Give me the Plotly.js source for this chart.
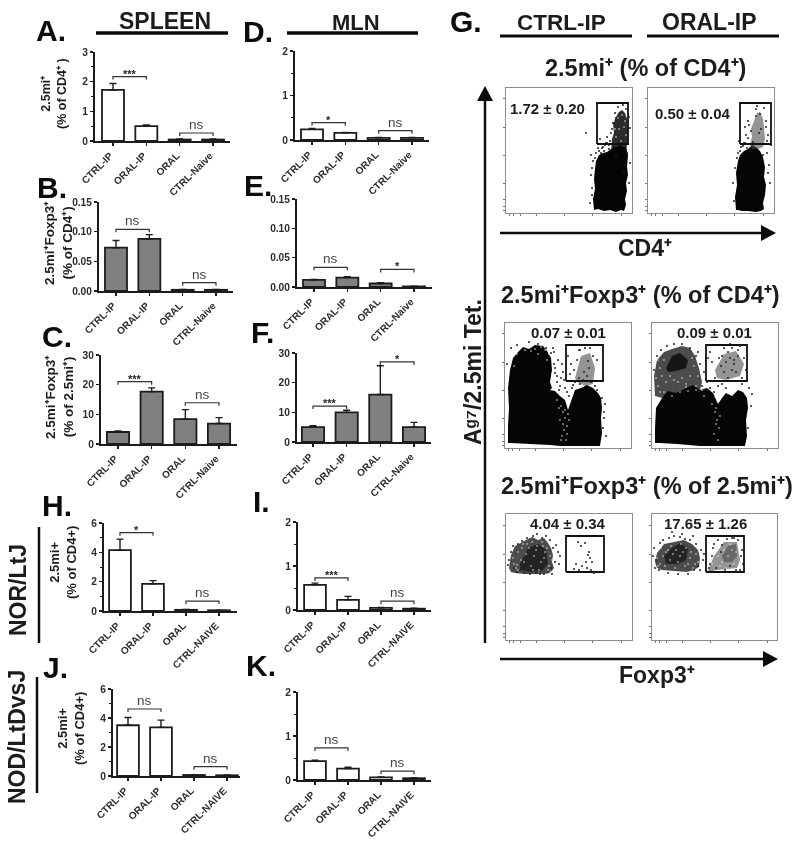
<!DOCTYPE html>
<html><head><meta charset="utf-8">
<script src="https://cdn.plot.ly/plotly-3.0.1.min.js"></script>
<style>html,body{margin:0;padding:0;background:#fff}#chart{width:800px;height:843px;filter:blur(0.55px)}</style>
</head><body><div id="chart"></div>
<script>
// ---------- bar chart data ----------
const categoriesNaive = ['CTRL-IP','ORAL-IP','ORAL','CTRL-Naive'];
const categoriesNAIVE = ['CTRL-IP','ORAL-IP','ORAL','CTRL-NAIVE'];

const valuesA = [1.72,0.50,0.05,0.05], errorsA = [0.22,0.04,0.02,0.02], bracketsA = [2.17,0.27], marksA = ['***','ns'];
const valuesB = [0.073,0.088,0.002,0.002], errorsB = [0.012,0.007,0.0006,0.0006], bracketsB = [0.104,0.014], marksB = ['ns','ns'];
const valuesC = [4.04,17.65,8.4,6.9], errorsC = [0.34,1.26,3.2,2.0], bracketsC = [21,13.9], marksC = ['***','ns'];
const valuesD = [0.24,0.16,0.05,0.05], errorsD = [0.02,0.01,0.01,0.01], bracketsD = [0.39,0.21], marksD = ['*','ns'];
const valuesE = [0.012,0.016,0.006,0.001], errorsE = [0.001,0.0015,0.0015,0.0005], bracketsE = [0.0336,0.030], marksE = ['ns','*'];
const valuesF = [5,10,16,5], errorsF = [0.5,0.7,9.7,1.6], bracketsF = [12.1,27], marksF = ['***','*'];
const valuesH = [4.15,1.85,0.08,0.05], errorsH = [0.75,0.22,0.02,0.01], bracketsH = [5.34,0.68], marksH = ['*','ns'];
const valuesI = [0.57,0.23,0.05,0.03], errorsI = [0.04,0.08,0.01,0.01], bracketsI = [0.73,0.20], marksI = ['***','ns'];
const valuesJ = [3.5,3.35,0.07,0.05], errorsJ = [0.53,0.5,0.02,0.02], bracketsJ = [4.62,0.64], marksJ = ['ns','ns'];
const valuesK = [0.43,0.26,0.06,0.04], errorsK = [0.02,0.03,0.01,0.01], bracketsK = [0.73,0.20], marksK = ['ns','ns'];

const ticks3 = [0,1,2,3], ticks2 = [0,1,2], ticks6 = [0,2,4,6], ticks30 = [0,10,20,30];
const ticks015 = [0,0.05,0.10,0.15], ticks015Text = ['0.00','0.05','0.10','0.15'];

// ---------- flow cytometry data (panel units) ----------
const gate1X = [91,122], gate1Y = [69,110];
const dense1LX = [88,87,89,88,89,90,93,97,101,104,108,111,114,117,120,122,121,122,120,121,119,120,118,115,110,104,98,92];
const dense1LY = [3,14,24,34,44,52,58,60,61,63,66,66,68,66,66,58,46,38,30,22,14,8,2,3,1,3,2,4];
const upper1LX = [105,106,108,107,110,113,116,119,121,122,121,119,112,106];
const upper1LY = [60,74,80,90,96,101,103,100,94,80,68,56,56,58];
const specks1LX = [84,86,85,87,90,93,96,99,104,101,106,110,112,117,120,123,124,122,121,119,118,116,113,109,107,105,103,100,97,95,92,89,86,80,113,116,110,94,98,103,101,124,123,86,85];
const specks1LY = [10,25,38,52,60,62,65,68,72,76,84,95,106,108,104,96,85,70,60,48,40,76,110,100,90,80,68,70,66,60,65,55,45,80,72,88,58,74,62,64,70,50,30,18,58];
const holes1LX = [110,113,108,116,118,112,120,115,109,119];
const holes1LY = [76,84,92,98,86,95,78,72,84,92];
const gate2X = [92,123], gate2Y = [69,110];
const dense1RX = [88,87,89,88,90,92,96,100,104,108,112,115,117,116,118,117,115,116,113,108,100,94,90];
const dense1RY = [3,16,28,40,52,58,62,64,68,66,62,56,46,36,28,18,10,4,2,1,2,2,3];
const upper1RX = [102,104,103,106,109,112,115,116,117,115,110,104];
const upper1RY = [68,76,84,92,100,101,94,86,74,66,64,64];
const specks1RX = [86,85,87,90,93,97,100,103,100,99,108,112,116,118,120,119,121,122,113,108,101,96,92,89,119,115,105,109,111,120,98,95,97,91,118,123];
const specks1RY = [12,30,45,60,66,70,75,82,92,65,104,99,105,86,78,60,48,30,84,97,88,70,62,55,72,58,71,107,80,40,78,67,86,72,92,68];

const gate3X = [61,98], gate3Y = [67,103];
const dense2LX = [3,3,4,3,5,8,13,18,24,30,38,42,46,47,45,47,45,50,55,60,63,67,70,76,82,88,93,96,97,96,97,95,85,70,55,45,30,15,5];
const dense2LY = [5,22,40,60,78,90,96,101,99,103,102,97,90,78,66,60,58,57,52,48,38,50,58,60,63,60,55,50,40,30,15,2,2,2,2,3,4,5,5];
const gateCloud2LX = [70,76,85,90,88,80,72];
const gateCloud2LY = [70,92,95,80,64,62,66];
const specks2LX = [50,53,56,49,60,58,52,48,6,2,12,24,33,41,46,50,64,67,70,74,78,82,86,90,92,97,100,99,98,85,75,66,72,80,83,88,63,57,79,69,74,84,92,65,55,54,59,49,52,62,68,75,99,101];
const specks2LY = [80,88,70,96,60,76,66,100,100,84,103,106,104,100,95,75,52,60,66,70,68,72,66,62,58,50,44,30,20,100,98,84,88,100,87,92,92,84,76,78,98,80,88,74,62,58,68,84,72,56,63,64,36,12];
const holes2LX = [56,58,60,62,59,57,61,63,55,58,62,60,64,56,52,54,44,40,47,36,30,20,12,9,42,33,26];
const holes2LY = [42,36,30,22,18,12,8,34,28,24,14,38,28,8,48,40,94,98,74,101,99,98,94,82,88,94,97];
const gate4X = [54,95], gate4Y = [67,103];
const dense2RX = [3,3,4,10,16,24,34,41,48,55,61,66,70,74,80,86,91,95,96,94,95,93,70,48,25,8];
const dense2RY = [5,20,40,50,57,55,60,63,58,60,55,44,50,55,52,58,56,50,40,28,12,2,2,2,4,5];
const upper2RX = [3,2,5,12,20,30,38,43,47,50,48,30,10];
const upper2RY = [52,72,88,96,99,102,100,92,80,66,58,54,50];
const core2RX = [14,20,28,36,34,24,16];
const core2RY = [80,92,95,88,80,77,76];
const gateCloud2RX = [63,72,84,92,88,74,65];
const gateCloud2RY = [78,94,97,84,72,68,70];
const specks2RX = [2,5,9,15,22,30,38,44,48,52,55,50,46,58,62,66,70,74,80,86,92,97,100,99,96,90,60,58,67,72,78,88,94,69,76,82,90,63,56,52,78,74,82,80,86,84,72,76,70];
const specks2RY = [78,92,98,102,104,104,100,92,84,76,66,62,96,60,56,62,64,60,100,98,90,60,54,42,20,64,86,96,90,100,104,102,78,82,96,88,70,70,90,58,90,86,84,78,92,76,76,70,92];
const holes2RX = [63,65,67,62,66,60,68,64,64,50,44,20,12,8,28,36,34,52,6,10,14,8,4,38,42,46,44,40,30,26,22,12,18,6,34];
const holes2RY = [36,28,20,14,8,44,32,40,24,58,58,52,56,56,56,57,61,52,62,72,66,80,70,72,82,72,62,90,70,66,68,88,72,88,64];

const gate5X = [60,98], gate5Y = [68,104];
const dense3LX = [3,5,9,14,20,26,32,38,42,45,47,46,48,44,38,28,18,9,5];
const dense3LY = [72,85,94,97,100,103,100,102,97,92,85,78,72,67,66,66,66,67,68];
const core3LX = [14,22,32,40,42,36,24,14];
const core3LY = [76,92,96,90,76,69,68,70];
const specks3LX = [3,5,2,8,12,16,21,27,31,36,40,44,47,50,52,49,45,54,42,38,30,18,11,7,14,24,34,46,53,72,75,79,82,84,86,76,70,68,73,81,85,78,71,83,80,88];
const specks3LY = [80,88,75,72,96,99,102,104,106,102,104,100,92,95,88,78,72,84,68,66,67,67,68,94,70,66,66,66,76,98,94,97,85,82,78,74,76,71,70,72,70,68,68,88,78,67];
const holes3LX = [8,12,16,21,26,31,36,41,44,10,15,20,25,30,35,39,43,7,12,18,23,28,33,38,42,46,6,11,17,27,37,44];
const holes3LY = [76,88,92,96,98,94,98,92,84,72,80,86,74,90,78,88,74,82,70,78,92,84,70,82,70,80,90,75,96,70,94,68];
const gate6X = [54,92], gate6Y = [68,104];
const dense3RX = [3,5,12,22,32,40,46,48,47,42,35,22,10,5];
const dense3RY = [78,87,96,98,100,96,90,82,73,70,68,69,70,72];
const core3RX = [12,20,28,36,34,26,14];
const core3RY = [84,92,97,92,80,76,76];
const gateCloud3RX = [57,62,72,85,88,85,65,56];
const gateCloud3RY = [72,84,98,98,80,72,70,68];
const core3GX = [70,76,84,85,80,72];
const core3GY = [84,94,96,84,78,78];
const specks3RX = [2,4,1,3,8,11,17,22,28,33,38,44,49,51,46,42,36,26,16,7,48,52,41,30,20,57,60,62,66,70,75,80,86,90,91,88,58,64,69,78,84,73,61,82,89];
const specks3RY = [92,80,84,72,97,100,102,104,103,101,100,96,90,80,74,70,66,66,67,70,70,86,104,106,108,72,84,96,100,95,101,102,100,90,76,70,76,72,88,74,70,70,92,102,84];
const holes3RX = [5,9,14,19,24,29,34,39,44,8,13,18,23,28,33,38,43,11,16,26,31,41,46,6,21,36,60,66,72,78,84,63,70,76,82,68,74,80];
const holes3RY = [82,92,88,94,90,96,92,88,86,76,74,80,72,84,74,82,76,84,90,78,88,72,78,74,86,76,76,84,90,96,88,72,78,84,76,74,72,90];

const flowLabels = ['1.72 ± 0.20','0.50 ± 0.04','0.07 ± 0.01','0.09 ± 0.01','4.04 ± 0.34','17.65 ± 1.26'];
const flowTickPositions = [3,7,14,30,58,86,115];

// ---------- layout geometry (pixels) ----------
const W = 800, H = 843;
const px = x => x / W, py = y => 1 - y / H;
const data = [], shapes = [], annotations = [];
const layout = {width:W, height:H, margin:{l:0,r:0,t:0,b:0}, paper_bgcolor:'#fff', plot_bgcolor:'rgba(0,0,0,0)', showlegend:false, hovermode:false, shapes, annotations, bargap:0};
const FONT = '"Liberation Sans", Arial, sans-serif';
const INK = '#1c1c1c';
let axisIndex = 0;

function nextAxes(x0, x1, yTop, yBottom) {
  axisIndex++;
  const s = axisIndex === 1 ? '' : axisIndex;
  return {xa:'x'+s, ya:'y'+s, xk:'xaxis'+s, yk:'yaxis'+s,
    dx:[px(x0),px(x1)], dy:[py(yBottom),py(yTop)]};
}

function barPanel(g, cats, vals, errs, br, marks, fill, yMax, yTicks, yTickText, minorStep) {
  const a = nextAxes(g.axisX, g.right, g.top, g.bottom);
  const step = (g.c3 - g.c0) / 3;
  layout[a.xk] = {domain:a.dx, anchor:a.ya, range:[(g.axisX-g.c0)/step,(g.right-g.c0)/step], tickmode:'array', tickvals:[0,1,2,3], ticktext:cats,
    tickangle:-45, ticks:'outside', ticklen:3, tickwidth:1.5, tickcolor:INK, showline:true, linewidth:2, linecolor:INK, showgrid:false, zeroline:false,
    tickfont:{family:FONT,size:10,color:'#2c2c2c',weight:700}, ticklabelshift:-3, fixedrange:true};
  layout[a.yk] = {domain:a.dy, anchor:a.xa, range:[0,yMax], tickmode:'array', tickvals:yTicks, ticktext:yTickText||yTicks.map(String),
    ticks:'outside', ticklen:3, tickwidth:1.5, tickcolor:INK, showline:true, linewidth:2, linecolor:INK, showgrid:false, zeroline:false,
    tickfont:{family:FONT,size:10.2,color:'#2c2c2c',weight:700}, fixedrange:true,
    minor: minorStep ? {dtick:minorStep, ticks:'outside', ticklen:2, tickcolor:INK, tickwidth:1} : undefined};
  data.push({type:'bar', x:[0,1,2,3], y:vals, width:0.66, xaxis:a.xa, yaxis:a.ya,
    marker:{color:fill, line:{color:INK,width:1.8}},
    error_y:{type:'data', symmetric:false, array:errs, arrayminus:[0,0,0,0], thickness:1.4, width:3.5, color:INK}, cliponaxis:false});
  const hpx = g.bottom - g.top, arm = 3 / hpx * yMax;
  [[0,1],[2,3]].forEach((p,i) => {
    data.push({type:'scatter', mode:'lines', x:[p[0],p[0],p[1],p[1]], y:[br[i]-arm,br[i],br[i],br[i]-arm], xaxis:a.xa, yaxis:a.ya,
      line:{color:'#333',width:1.2}, cliponaxis:false});
    const isNs = marks[i] === 'ns';
    annotations.push({xref:a.xa, yref:a.ya, x:(p[0]+p[1])/2, y:br[i], text:marks[i], showarrow:false, xanchor:'center', yanchor:'bottom',
      yshift:isNs?-1:-5, font:{family:FONT,size:isNs?13.5:11,color:isNs?'#444':'#222',weight:isNs?400:700}});
  });
}

barPanel({axisX:95,right:230,top:52,bottom:141,c0:113,c3:213}, categoriesNaive, valuesA, errorsA, bracketsA, marksA, '#fff', 3, ticks3, null, 0.5);
barPanel({axisX:99,right:233,top:202,bottom:291,c0:116,c3:216}, categoriesNaive, valuesB, errorsB, bracketsB, marksB, '#808080', 0.15, ticks015, ticks015Text);
barPanel({axisX:101,right:237,top:355,bottom:444,c0:118,c3:219}, categoriesNaive, valuesC, errorsC, bracketsC, marksC, '#808080', 30, ticks30);
barPanel({axisX:295,right:429,top:51,bottom:140,c0:312,c3:412}, categoriesNaive, valuesD, errorsD, bracketsD, marksD, '#fff', 2, ticks2, null, 0.5);
barPanel({axisX:297,right:432,top:199,bottom:287,c0:314,c3:414}, categoriesNaive, valuesE, errorsE, bracketsE, marksE, '#808080', 0.15, ticks015, ticks015Text);
barPanel({axisX:297,right:431,top:353,bottom:442,c0:313,c3:414}, categoriesNaive, valuesF, errorsF, bracketsF, marksF, '#808080', 30, ticks30);
barPanel({axisX:104,right:237,top:523,bottom:611,c0:120,c3:219}, categoriesNAIVE, valuesH, errorsH, bracketsH, marksH, '#fff', 6, ticks6, null, 1);
barPanel({axisX:298,right:431,top:522,bottom:610,c0:315,c3:414}, categoriesNAIVE, valuesI, errorsI, bracketsI, marksI, '#fff', 2, ticks2, null, 0.5);
barPanel({axisX:113,right:240,top:689,bottom:776,c0:128,c3:227}, categoriesNAIVE, valuesJ, errorsJ, bracketsJ, marksJ, '#fff', 6, ticks6, null, 1);
barPanel({axisX:298,right:431,top:692,bottom:780,c0:315,c3:414}, categoriesNAIVE, valuesK, errorsK, bracketsK, marksK, '#fff', 2, ticks2, null, 0.5);

function flowPanel(r, gX, gY, regions, sX, sY, hX, hY, label, lx, ly) {
  const a = nextAxes(r[0], r[1], r[2], r[3]);
  const base = {showline:true, mirror:true, linewidth:1.2, linecolor:'#8c8c8c', showgrid:false, zeroline:false, showticklabels:false,
    tickmode:'array', tickvals:flowTickPositions, ticks:'outside', ticklen:2, tickwidth:1, tickcolor:'#777', fixedrange:true};
  layout[a.xk] = Object.assign({}, base, {domain:a.dx, anchor:a.ya, range:[0, r[1]-r[0]]});
  layout[a.yk] = Object.assign({}, base, {domain:a.dy, anchor:a.xa, range:[0, r[3]-r[2]]});
  regions.forEach(t => data.push({type:'scatter', mode:'lines', x:t.x, y:t.y, fill:'toself', fillcolor:t.c, line:{color:'rgba(0,0,0,0)',width:0}, xaxis:a.xa, yaxis:a.ya}));
  if (hX) data.push({type:'scatter', mode:'markers', x:hX, y:hY, marker:{size:1.6,color:'#e8e8e8'}, xaxis:a.xa, yaxis:a.ya});
  data.push({type:'scatter', mode:'markers', x:sX, y:sY, marker:{size:2,color:'#222'}, xaxis:a.xa, yaxis:a.ya});
  data.push({type:'scatter', mode:'lines', x:[gX[0],gX[1],gX[1],gX[0],gX[0]], y:[gY[0],gY[0],gY[1],gY[1],gY[0]], line:{color:'#111',width:1.8}, xaxis:a.xa, yaxis:a.ya});
  annotations.push({xref:'paper',yref:'paper',x:px(lx),y:py(ly),text:label,showarrow:false,xanchor:'center',yanchor:'middle',font:{family:FONT,size:15,color:INK,weight:700}});
}
const BLACK='#050505', DARK='rgba(15,15,15,0.88)', MIDDARK='rgba(25,25,25,0.78)', MID='rgba(70,70,70,0.58)';
flowPanel([506,632,88,213], gate1X, gate1Y, [{x:upper1LX,y:upper1LY,c:DARK},{x:dense1LX,y:dense1LY,c:BLACK}], specks1LX, specks1LY, holes1LX, holes1LY, flowLabels[0], 547, 108);
flowPanel([648,774,88,213], gate2X, gate2Y, [{x:dense1RX,y:dense1RY,c:BLACK},{x:upper1RX,y:upper1RY,c:MID}], specks1RX, specks1RY, null, null, flowLabels[1], 693, 113);
flowPanel([505,631,323,448], gate3X, gate3Y, [{x:dense2LX,y:dense2LY,c:BLACK},{x:gateCloud2LX,y:gateCloud2LY,c:MID}], specks2LX, specks2LY, holes2LX, holes2LY, flowLabels[2], 568, 333);
flowPanel([652,778,323,448], gate4X, gate4Y, [{x:upper2RX,y:upper2RY,c:MIDDARK},{x:core2RX,y:core2RY,c:DARK},{x:dense2RX,y:dense2RY,c:BLACK},{x:gateCloud2RX,y:gateCloud2RY,c:MID}], specks2RX, specks2RY, holes2RX, holes2RY, flowLabels[3], 714, 333);
flowPanel([506,632,514,640], gate5X, gate5Y, [{x:dense3LX,y:dense3LY,c:MIDDARK},{x:core3LX,y:core3LY,c:MIDDARK}], specks3LX, specks3LY, holes3LX, holes3LY, flowLabels[4], 568, 523);
flowPanel([652,777,514,640], gate6X, gate6Y, [{x:dense3RX,y:dense3RY,c:MIDDARK},{x:core3RX,y:core3RY,c:MIDDARK},{x:gateCloud3RX,y:gateCloud3RY,c:MID},{x:core3GX,y:core3GY,c:MID}], specks3RX, specks3RY, holes3RX, holes3RY, flowLabels[5], 705, 523);

// ---------- page furniture ----------
function txt(s, x, y, size, opts) {
  opts = opts || {};
  annotations.push({xref:'paper',yref:'paper',x:px(x),y:py(y),text:s,showarrow:false,xanchor:'center',yanchor:'middle',
    textangle:opts.angle||0, align:'center', font:{family:FONT,size,color:opts.color||INK,weight:opts.weight===undefined?700:opts.weight}});
}
function rule(x0,y0,x1,y1,w) {
  shapes.push({type:'line',xref:'paper',yref:'paper',x0:px(x0),y0:py(y0),x1:px(x1),y1:py(y1),line:{color:'#0c0c0c',width:w}});
}
function tri(a,b,c) {
  const P = p => px(p[0])+','+py(p[1]);
  shapes.push({type:'path',xref:'paper',yref:'paper',path:'M'+P(a)+' L'+P(b)+' L'+P(c)+' Z',fillcolor:'#0c0c0c',line:{color:'#0c0c0c',width:0}});
}
[['A.',51,31],['B.',52,187],['C.',57,337],['D.',258,32],['E.',258,186],['F.',262,332],['H.',57,506],['J.',55,667],['I.',261,501],['K.',261,665],['G.',466,21]]
  .forEach(t => txt(t[0],t[1],t[2],30,{color:'#0c0c0c'}));

txt('SPLEEN',165,21,23); rule(96,33,228,33,3.5);
txt('MLN',356,22,22); rule(287,33,418,33,3.5);
txt('CTRL-IP',561,22,22.5); rule(500,36,632,36,3);
txt('ORAL-IP',709,22,23); rule(647,36,779,36,3);

txt('2.5mi⁺ (% of CD4⁺)',645,68,23.5);
txt('2.5mi⁺Foxp3⁺ (% of CD4⁺)',640,295,23.5);
txt('2.5mi⁺Foxp3⁺ (% of 2.5mi⁺)',647,486,23.5);
txt('CD4⁺',645,248,23);
txt('Foxp3⁺',657,675,23);
txt('Aᵍ⁷/2.5mi Tet.',473,372,23,{angle:-90});

txt('2.5mi⁺<br>(% of CD4⁺ )',54,94,12.5,{angle:-90});
txt('2.5mi⁺Foxp3⁺<br>(% of CD4⁺)',58,243,13.5,{angle:-90});
txt('2.5mi⁺Foxp3⁺<br>(% of 2.5mi⁺)',60,397,13.5,{angle:-90});
txt('2.5mi+<br>(% of CD4+)',63,563,13,{angle:-90});
txt('2.5mi+<br>(% of CD4+)',71,729,13,{angle:-90});

txt('NOR/LtJ',18,590,23,{angle:-90}); rule(39,527,39,643,2.5);
txt('NOD/LtDvsJ',17,737,23,{angle:-90}); rule(37,677,37,793,2.5);

rule(485,98,485,643,2.5); tri([485,86],[477,101],[493,101]);
rule(500,233,766,233,2.5); tri([776,233],[761,225],[761,241]);
rule(500,659,768,659,2.5); tri([778,659],[763,651],[763,667]);

Plotly.newPlot('chart', data, layout, {displayModeBar:false, staticPlot:true});
</script></body></html>
